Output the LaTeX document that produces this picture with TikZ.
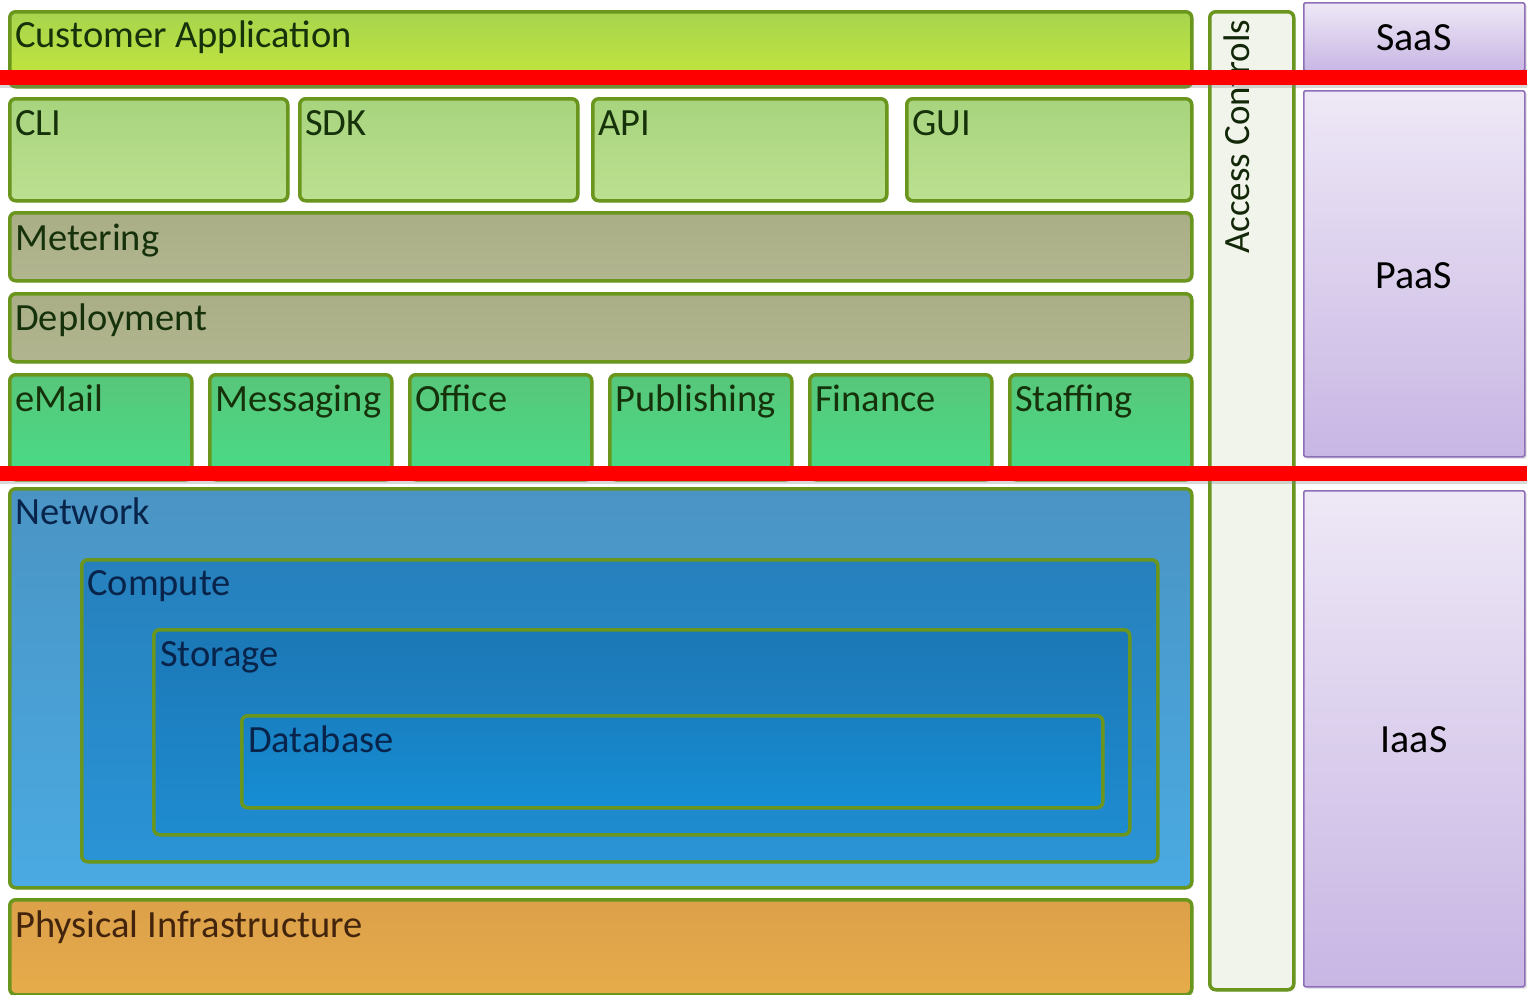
\documentclass[tikz,border=0pt]{standalone}
\usepackage{fontspec}
\setmainfont{Carlito}
\usetikzlibrary{calc,shadows}

% frame and fill colours
\definecolor{leaf}{HTML}{6A961E}
\definecolor{limeTop}{HTML}{A6D44E}
\definecolor{limeBot}{HTML}{C6E83A}
\definecolor{paleTop}{HTML}{A8D47E}
\definecolor{paleBot}{HTML}{BCE090}
\definecolor{khakiTop}{HTML}{A9AE86}
\definecolor{khakiBot}{HTML}{B2B690}
\definecolor{mintTop}{HTML}{58C67A}
\definecolor{mintBot}{HTML}{48DC88}
\definecolor{netTop}{HTML}{4A94C4}
\definecolor{netBot}{HTML}{4AAAE2}
\definecolor{compTop}{HTML}{2680BC}
\definecolor{compBot}{HTML}{2A94D6}
\definecolor{storTop}{HTML}{1C78B6}
\definecolor{storBot}{HTML}{1E8CD0}
\definecolor{dbTop}{HTML}{1880C2}
\definecolor{dbBot}{HTML}{168ED4}
\definecolor{orTop}{HTML}{DCA04A}
\definecolor{orBot}{HTML}{E6AC4A}
\definecolor{rail}{HTML}{F0F4EA}
\definecolor{lavTop}{HTML}{EEE8F6}
\definecolor{lavBot}{HTML}{C8B6E4}
\definecolor{lavEdge}{HTML}{8E6EB8}
\definecolor{inkGreen}{HTML}{16320A}
\definecolor{inkBlue}{HTML}{08244A}
\definecolor{inkBrown}{HTML}{42240C}
\definecolor{cutRed}{HTML}{FF0000}

\tikzset{
  tier/.style={draw=leaf, line width=3.5pt, rounded corners=6pt, anchor=north west,
    inner sep=0pt, drop shadow={opacity=0.12, shadow xshift=2pt, shadow yshift=-2pt}},
  lime/.style={tier, top color=limeTop, bottom color=limeBot},
  pale/.style={tier, top color=paleTop, bottom color=paleBot},
  khaki/.style={tier, top color=khakiTop, bottom color=khakiBot},
  mint/.style={tier, top color=mintTop, bottom color=mintBot},
  net/.style={tier, top color=netTop, bottom color=netBot},
  comp/.style={tier, drop shadow={opacity=0}, top color=compTop, bottom color=compBot},
  stor/.style={tier, drop shadow={opacity=0}, top color=storTop, bottom color=storBot},
  dbase/.style={tier, drop shadow={opacity=0}, top color=dbTop, bottom color=dbBot},
  phys/.style={tier, top color=orTop, bottom color=orBot},
  railbox/.style={tier, fill=rail},
  model/.style={draw=lavEdge, line width=1.5pt, rounded corners=1.5pt, anchor=north west,
    inner sep=0pt, top color=lavTop, bottom color=lavBot,
    drop shadow={opacity=0.2, shadow xshift=2pt, shadow yshift=-2pt}},
  cutbar/.style={fill=cutRed, anchor=north west, inner sep=0pt, minimum width=1527pt,
    minimum height=15pt, drop shadow={opacity=0.3, shadow xshift=0pt, shadow yshift=-3pt}},
  lbl/.style={anchor=base west, inner sep=0pt, font=\fontsize{38.5}{42}\selectfont},
  glbl/.style={lbl, text=inkGreen},
  blbl/.style={lbl, text=inkBlue},
  olbl/.style={lbl, text=inkBrown},
  mlbl/.style={anchor=base, inner sep=0pt, text=black, font=\fontsize{40}{44}\selectfont},
}

\begin{document}
\begin{tikzpicture}[x=1pt, y=-1pt]
\useasboundingbox (0,0) rectangle (1527,994);
\fill[white] (0,0) rectangle (1527,994);
\clip (0,0) rectangle (1527,994);

% application layer
\node[lime, minimum width=1182pt, minimum height=75pt] (cust) at (8,10) {};

% interfaces
\node[pale, minimum width=278pt, minimum height=102pt] (cli) at (8,97) {};
\node[pale, minimum width=278pt, minimum height=102pt] (sdk) at (298,97) {};
\node[pale, minimum width=294pt, minimum height=102pt] (api) at (591,97) {};
\node[pale, minimum width=285pt, minimum height=102pt] (gui) at (905,97) {};

% platform services
\node[khaki, minimum width=1182pt, minimum height=68pt] (meter) at (8,211) {};
\node[khaki, minimum width=1182pt, minimum height=68pt] (deploy) at (8,292) {};

\node[mint, minimum width=182pt, minimum height=105pt] (email) at (8,373) {};
\node[mint, minimum width=182pt, minimum height=105pt] (msg) at (208,373) {};
\node[mint, minimum width=182pt, minimum height=105pt] (office) at (408,373) {};
\node[mint, minimum width=182pt, minimum height=105pt] (pub) at (608,373) {};
\node[mint, minimum width=182pt, minimum height=105pt] (fin) at (808,373) {};
\node[mint, minimum width=182pt, minimum height=105pt] (staff) at (1008,373) {};

% infrastructure, nested
\node[net, minimum width=1182pt, minimum height=399pt] (network) at (8,487) {};
\node[comp, minimum width=1076pt, minimum height=302pt] (compute) at (80,558) {};
\node[stor, minimum width=976pt, minimum height=205pt] (storage) at (152,628) {};
\node[dbase, minimum width=861pt, minimum height=92pt] (db) at (240,714) {};

\node[phys, minimum width=1182pt, minimum height=95pt] (physical) at (8,898) {};

% cross-cutting rail
\node[railbox, minimum width=84pt, minimum height=978pt] (access) at (1208,10) {};

% service models
\node[model, minimum width=221pt, minimum height=68pt] (saas) at (1303,2) {};
\node[model, minimum width=221pt, minimum height=366pt] (paas) at (1303,90) {};
\node[model, minimum width=221pt, minimum height=496pt] (iaas) at (1303,490) {};

% labels
\node[glbl] (cust-t) at (15,47) {Customer Application};
\node[glbl] (cli-t) at (15,135) {CLI};
\node[glbl] (sdk-t) at (305,135) {SDK};
\node[glbl] (api-t) at (598,135) {API};
\node[glbl] (gui-t) at (912,135) {GUI};
\node[glbl] (meter-t) at (15,250) {Metering};
\node[glbl] (deploy-t) at (15,330) {Deployment};
\node[glbl] (email-t) at (15,411) {eMail};
\node[glbl] (msg-t) at (215,411) {Messaging};
\node[glbl] (office-t) at (415,411) {Office};
\node[glbl] (pub-t) at (615,411) {Publishing};
\node[glbl] (fin-t) at (815,411) {Finance};
\node[glbl] (staff-t) at (1015,411) {Staffing};
\node[blbl] (network-t) at (15,524) {Network};
\node[blbl] (compute-t) at (87,595) {Compute};
\node[blbl] (storage-t) at (160,666) {Storage};
\node[blbl] (db-t) at (248,752) {Database};
\node[olbl] (physical-t) at (15,937) {Physical Infrastructure};
\node[lbl, text=inkGreen!80!black, rotate=90, font=\fontsize{37}{40}\selectfont] (access-t) at (1249,254) {Access Controls};

\node[mlbl] (saas-t) at (1414,50) {SaaS};
\node[mlbl] (paas-t) at (1414,288) {PaaS};
\node[mlbl] (iaas-t) at (1414,752) {IaaS};

% boundaries between the service models
\node[cutbar] (cut1) at (0,70) {};
\node[cutbar] (cut2) at (0,466) {};
\end{tikzpicture}
\end{document}
